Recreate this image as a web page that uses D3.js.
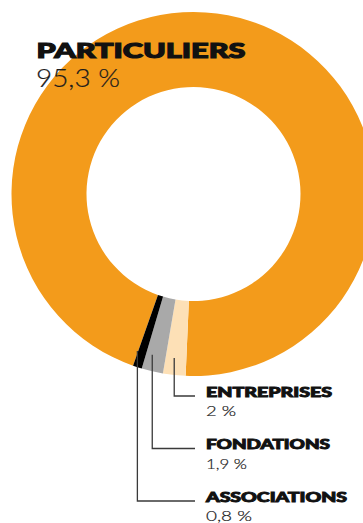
<!DOCTYPE html>
<html>
<head>
<meta charset="utf-8">
<script src="https://cdn.jsdelivr.net/npm/d3@7"></script>
<style>
  html, body { margin: 0; padding: 0; background: #fff; }
  svg { display: block; }
  .name { font-family: Lato, "Noto Sans", sans-serif; font-weight: 900; fill: #111; stroke: #111; stroke-width: 0.9px; }
  .big.name { stroke-width: 1.2px; }
  .pct { font-family: Lato, "Noto Sans", sans-serif; font-weight: 300; fill: #1c1c1c; stroke: #1c1c1c; stroke-width: 0.2px; }
</style>
</head>
<body>
<svg id="chart"></svg>
<script>
// Parts of the donations, in percent
const categories = ['PARTICULIERS', 'ENTREPRISES', 'FONDATIONS', 'ASSOCIATIONS'];
const shares = [95.3, 2, 1.9, 0.8];
const shareLabels = ['95,3 %', '2 %', '1,9 %', '0,8 %'];
const colors = ['#f39b1b', '#fde0b6', '#a9a9a9', '#000000'];

const width = 363;
const height = 523;
const cx = 193.5, cy = 194;
const outerR = 182, innerR = 107;

// text widths measured on the reference (the original face is wider)
const nameWidths = [209, 126, 124, 141];
const pctWidths = [84, 30, 41, 46];

const svg = d3.select('#chart')
  .attr('width', width)
  .attr('height', height);

const data = categories.map((c, i) => ({ name: c, value: shares[i], label: shareLabels[i], color: colors[i], i: i }));

// orange slice starts just left of the bottom, small slices follow clockwise
const startDeg = 199.4;
const pie = d3.pie()
  .sort(null)
  .value(d => d.value)
  .startAngle(startDeg * Math.PI / 180)
  .endAngle((startDeg + 360) * Math.PI / 180);

const arcs = pie(data);
const arc = d3.arc().innerRadius(innerR).outerRadius(outerR);

const g = svg.append('g').attr('transform', `translate(${cx},${cy})`);
g.selectAll('path')
  .data(arcs)
  .enter().append('path')
  .attr('d', arc)
  .attr('fill', d => d.data.color);

function label(cls, x, y, size, txt, w) {
  svg.append('text')
    .attr('class', cls)
    .attr('x', x)
    .attr('y', y)
    .attr('font-size', size)
    .attr('textLength', w)
    .attr('lengthAdjust', 'spacingAndGlyphs')
    .text(txt);
}

// main label, top left
label('name big', 36.5, 57.7, 21.5, data[0].name, nameWidths[0]);
label('pct', 36, 87.3, 25, data[0].label, pctWidths[0]);

// small slices with leader lines
const labelX = 206;
const lineEndX = 195;
const baselines = [396.5, 449, 501.5];

arcs.slice(1).forEach((a, i) => {
  const k = a.data.i;
  const mid = (a.startAngle + a.endAngle) / 2;
  const x = cx + outerR * Math.sin(mid);
  const y0 = cy - 165 * Math.cos(mid);
  const yLine = baselines[i] - 0.5;
  svg.append('path')
    .attr('d', `M${x},${y0}V${yLine}H${lineEndX}`)
    .attr('fill', 'none')
    .attr('stroke', '#3a3a3a')
    .attr('stroke-width', 1.3);
  label('name', labelX, baselines[i], 13.2, a.data.name, nameWidths[k]);
  label('pct', labelX, baselines[i] + 19.5, 14.5, a.data.label, pctWidths[k]);
});
</script>
</body>
</html>
